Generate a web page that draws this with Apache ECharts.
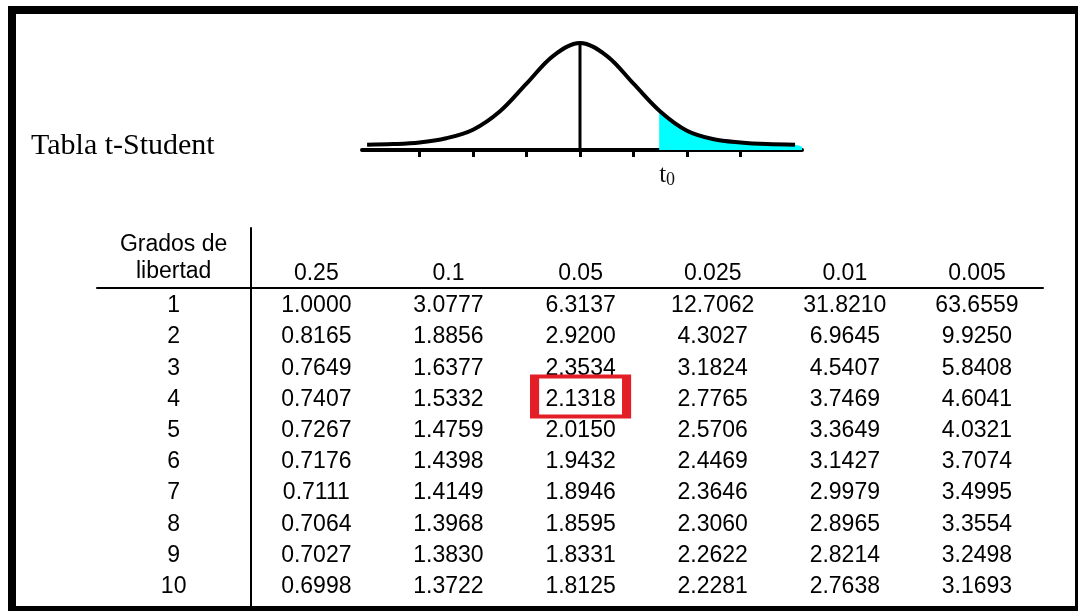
<!DOCTYPE html>
<html><head><meta charset="utf-8">
<script src="https://cdn.jsdelivr.net/npm/echarts@6/dist/echarts.min.js"></script>
<style>html,body{margin:0;padding:0;background:#fff}#c{width:1078px;height:611px}</style>
</head><body><div id="c"></div>
<script>
// ---- data ----
const titleText = 'Tabla t-Student';
// bell curve outline (t in axis units, height relative to peak)
const curveT = [-3.98, -3.5, -3.0, -2.5, -2.0, -1.5, -1.0, -0.5, 0, 0.5, 1.0, 1.5, 2.0, 2.5, 3.0, 3.5, 4.02];
const curveY = [0.05, 0.055, 0.07, 0.11, 0.19, 0.36, 0.62, 0.88, 1.0, 0.88, 0.62, 0.36, 0.18, 0.10, 0.07, 0.055, 0.05];
const t0 = 1.48;
const tailT = [1.48, 2.0, 2.5, 3.0, 3.5, 4.02, 4.15];
const tailY = [0.37, 0.18, 0.10, 0.07, 0.055, 0.05, 0.03];
const axisTicks = [-3, -2, -1, 0, 1, 2, 3];

const dfHeader = 'Grados de\nlibertad';
const alphas = ['0.25', '0.1', '0.05', '0.025', '0.01', '0.005'];
const dfs = ['1', '2', '3', '4', '5', '6', '7', '8', '9', '10'];
const row1 = ['1.0000', '3.0777', '6.3137', '12.7062', '31.8210', '63.6559'];
const row2 = ['0.8165', '1.8856', '2.9200', '4.3027', '6.9645', '9.9250'];
const row3 = ['0.7649', '1.6377', '2.3534', '3.1824', '4.5407', '5.8408'];
const row4 = ['0.7407', '1.5332', '2.1318', '2.7765', '3.7469', '4.6041'];
const row5 = ['0.7267', '1.4759', '2.0150', '2.5706', '3.3649', '4.0321'];
const row6 = ['0.7176', '1.4398', '1.9432', '2.4469', '3.1427', '3.7074'];
const row7 = ['0.7111', '1.4149', '1.8946', '2.3646', '2.9979', '3.4995'];
const row8 = ['0.7064', '1.3968', '1.8595', '2.3060', '2.8965', '3.3554'];
const row9 = ['0.7027', '1.3830', '1.8331', '2.2622', '2.8214', '3.2498'];
const row10 = ['0.6998', '1.3722', '1.8125', '2.2281', '2.7638', '3.1693'];
const highlightRow = 3; // df = 4
const highlightCol = 2; // 0.05

// ---- build ----
const rows = [row1, row2, row3, row4, row5, row6, row7, row8, row9, row10];
const labelColX = -0.58;
const cellData = [];
rows.forEach((r, ri) => r.forEach((v, ci) => cellData.push([ci + 0.5, ri + 0.5, v])));
const dfData = dfs.map((d, ri) => [labelColX, ri + 0.5, d]);
const headData = alphas.map((a, ci) => [ci + 0.5, -0.45, a]);
headData.push([labelColX, -0.93, dfHeader]);

const sans = 'Liberation Sans, Arial, sans-serif';
const serif = 'Liberation Serif, Times New Roman, serif';
const headLabel = {show: true, position: 'inside', color: '#000', fontFamily: sans, fontSize: 23,
  lineHeight: 27, align: 'center', formatter: p => p.data[2]};
const cellLabel = {show: true, position: 'inside', color: '#000', fontFamily: sans, fontSize: 23,
  offset: [0, 3], formatter: p => p.data[2]};
const hidden = {color: 'rgba(0,0,0,0)', opacity: 1};

const chart = echarts.init(document.getElementById('c'), null, {renderer: 'canvas'});
chart.setOption({
  backgroundColor: '#fff',
  animation: false,
  title: {text: titleText, left: 31, top: 131, padding: 0,
    textStyle: {fontFamily: serif, fontSize: 30, fontWeight: 'normal', color: '#000'}},
  grid: [
    {left: 362, top: 43, width: 440, height: 107},
    {left: 97, top: 228, width: 946, height: 383}
  ],
  xAxis: [
    {type: 'value', gridIndex: 0, min: -4.075, max: 4.15,
      axisLine: {show: true, onZero: false, lineStyle: {color: '#000', width: 4}},
      axisTick: {show: true, customValues: axisTicks, length: 7, lineStyle: {color: '#000', width: 3}},
      axisLabel: {show: true, customValues: [t0], align: 'left', margin: 12,
        formatter: () => 't{s|0}',
        fontFamily: serif, fontSize: 25, color: '#111',
        rich: {s: {fontFamily: serif, fontSize: 18, color: '#111', verticalAlign: 'bottom', padding: [9, 0, 0, 0]}}},
      splitLine: {show: false}},
    {type: 'value', gridIndex: 1, min: -1.16, max: 6,
      axisLine: {show: true, onZero: true, lineStyle: {color: '#000', width: 2}},
      axisTick: {show: false}, axisLabel: {show: false}, splitLine: {show: false}}
  ],
  yAxis: [
    {type: 'value', gridIndex: 0, min: 0, max: 1, show: false},
    {type: 'value', gridIndex: 1, inverse: true, min: -1.9, max: 10.375,
      axisLine: {show: true, onZero: true, lineStyle: {color: '#000', width: 2}},
      axisTick: {show: false}, axisLabel: {show: false}, splitLine: {show: false}}
  ],
  series: [
    {type: 'line', xAxisIndex: 0, yAxisIndex: 0, silent: true, z: 1,
      data: tailT.map((t, i) => [t, tailY[i]]), smooth: 0.35, symbol: 'none',
      lineStyle: {width: 0}, areaStyle: {color: '#00FFFF', opacity: 1}},
    {type: 'line', xAxisIndex: 0, yAxisIndex: 0, silent: true, z: 3,
      data: curveT.map((t, i) => [t, curveY[i]]), smooth: 0.35, symbol: 'none',
      lineStyle: {color: '#000', width: 4}},
    {type: 'line', xAxisIndex: 0, yAxisIndex: 0, silent: true, z: 3,
      data: [[0, 0], [0, 1]], symbol: 'none', lineStyle: {color: '#000', width: 3}},
    {type: 'scatter', xAxisIndex: 1, yAxisIndex: 1, silent: true, data: dfData,
      symbolSize: 1, itemStyle: hidden, label: cellLabel},
    {type: 'scatter', xAxisIndex: 1, yAxisIndex: 1, silent: true, data: headData,
      symbolSize: 1, itemStyle: hidden, label: headLabel},
    {type: 'scatter', xAxisIndex: 1, yAxisIndex: 1, silent: true, data: cellData,
      symbolSize: 1, itemStyle: hidden, label: cellLabel},
    {type: 'scatter', xAxisIndex: 1, yAxisIndex: 1, silent: true, z: 5,
      data: [[highlightCol + 0.5, highlightRow + 0.5]],
      symbol: 'rect', symbolSize: [92, 40],
      itemStyle: {color: 'rgba(0,0,0,0)', opacity: 1, borderColor: '#e41e26', borderWidth: 6}}
  ],
  graphic: [
    {type: 'rect', z: 100, silent: true,
      shape: {x: 12, y: 10, width: 1067, height: 600},
      style: {fill: 'none', stroke: '#000', lineWidth: 8}}
  ]
});
</script></body></html>
